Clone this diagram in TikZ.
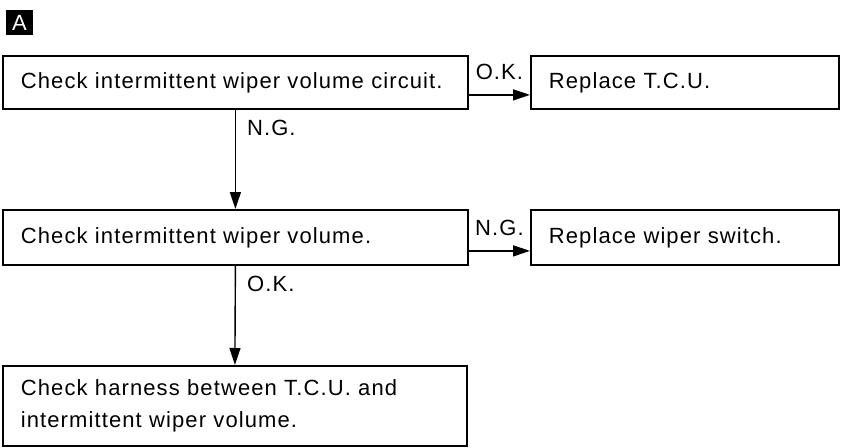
\documentclass[tikz,border=0pt]{standalone}
\usepackage{fontspec}
\setmainfont{Liberation Sans}[LetterSpace=5]
\usepackage{tikz}
\usetikzlibrary{arrows.meta,positioning,calc}

\begin{document}
\begin{tikzpicture}[
    x=1pt, y=-1pt,
    font=\fontsize{22}{32}\selectfont,
    >={Triangle[length=17pt, width=11pt]},
    badge/.style={
      fill=black, text=white, minimum width=27pt, minimum height=25pt,
      inner sep=0pt,
    },
    stepbox/.style={
      draw=black, line width=1.8pt, anchor=north west, align=left,
      inner xsep=18pt, inner ysep=4pt, text width=#1,
    },
    lbl/.style={inner sep=1pt},
    flow/.style={->, line width=1.4pt, draw=black},
  ]
    \useasboundingbox (0,0) rectangle (845,447);

    % ===== Header badge =====
    \node[badge] (tag) at (19.5,22.5) {A};

    % ===== Steps: check (left) -> replace (right) =====
    \node[stepbox=429pt, minimum height=53pt] (chkcirc) at (2,55)
      {Check intermittent wiper volume circuit.};
    \node[stepbox=272pt, minimum height=53pt] (reptcu) at (530,55)
      {Replace T.C.U.};

    \node[stepbox=429pt, minimum height=55pt] (chkvol) at (2,209)
      {Check intermittent wiper volume.};
    \node[stepbox=272pt, minimum height=55pt] (repsw) at (530,209)
      {Replace wiper switch.};

    \node[stepbox=428pt, minimum height=80pt] (chkharn) at (2,365)
      {Check harness between T.C.U. and\\intermittent wiper volume.};

    % ===== Connectors =====
    \draw[flow] ([yshift=-12.5pt]chkcirc.east) -- ([yshift=-12.5pt]reptcu.west)
      node[lbl, midway, above=13pt] {O.K.};
    \draw[flow] (chkcirc.south) -- (chkvol.north)
      node[lbl, pos=0, anchor=north west, xshift=10pt, yshift=-9pt] {N.G.};
    \draw[flow] ([yshift=-13.5pt]chkvol.east) -- ([yshift=-13.5pt]repsw.west)
      node[lbl, midway, above=13pt] {N.G.};
    \draw[flow] (chkvol.south) -- (chkharn.north)
      node[lbl, pos=0, anchor=north west, xshift=10pt, yshift=-9pt] {O.K.};

  \end{tikzpicture}
\end{document}
